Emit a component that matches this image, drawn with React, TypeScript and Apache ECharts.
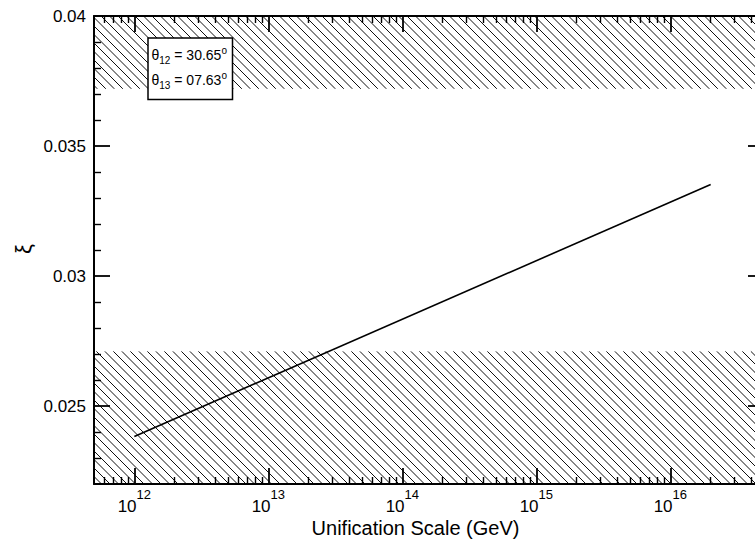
import React, { useEffect, useRef } from 'react';
import * as echarts from 'echarts';

// ---- data ----
const lineScaleGeV = [1e12, 2e16];
const lineXi = [0.02383, 0.03352];

const bandLower = [0.022, 0.0372];
const bandUpper = [0.0271, 0.04];

const xMinGeV = 5e11;
const xMaxGeV = 5e16;
const yMin = 0.022;
const yMax = 0.04;

const xMajorTickGeV = [1e12, 1e13, 1e14, 1e15, 1e16];
const xMinorTickGeV = [
  6e11, 7e11, 8e11, 9e11,
  2e12, 3e12, 4e12, 5e12, 6e12, 7e12, 8e12, 9e12,
  2e13, 3e13, 4e13, 5e13, 6e13, 7e13, 8e13, 9e13,
  2e14, 3e14, 4e14, 5e14, 6e14, 7e14, 8e14, 9e14,
  2e15, 3e15, 4e15, 5e15, 6e15, 7e15, 8e15, 9e15,
  2e16, 3e16, 4e16,
];
const yMajorTicks = [0.025, 0.03, 0.035, 0.04];
const yMinorTicks = [
  0.023, 0.024, 0.026, 0.027, 0.028, 0.029, 0.031, 0.032, 0.033, 0.034,
  0.036, 0.037, 0.038, 0.039,
];
const legendSubscripts = ['12', '13'];
const legendValues = ['30.65', '07.63'];
const xTitle = 'Unification Scale (GeV)';
const yTitle = 'ξ';

const FONT = '"Liberation Sans", Arial, Helvetica, sans-serif';
const lg = (v: number) => Math.log10(v);

function makeXAxis(position: 'top' | 'bottom', ticks: number[], len: number, showLine: boolean, showLabels: boolean) {
  return {
    type: 'value',
    position,
    min: lg(xMinGeV),
    max: lg(xMaxGeV),
    z: 10,
    splitLine: { show: false },
    axisLine: { show: showLine, onZero: false, lineStyle: { color: '#000', width: 2 } },
    axisTick: {
      show: true,
      inside: true,
      length: len,
      customValues: ticks.map(lg),
      lineStyle: { color: '#000', width: len > 10 ? 1.8 : 1.4 },
    },
    axisLabel: showLabels
      ? {
          show: true,
          customValues: ticks.map(lg),
          margin: 4,
          formatter: (v: number) => `{b|10}{s|${Math.round(v)}}`,
          rich: {
            b: { fontSize: 17, lineHeight: 36, fontFamily: FONT, color: '#000' },
            s: { fontSize: 13, lineHeight: 18, verticalAlign: 'top', fontFamily: FONT, color: '#000' },
          },
        }
      : { show: false },
  };
}

function makeYAxis(position: 'left' | 'right', ticks: number[], len: number, showLine: boolean, showLabels: boolean) {
  return {
    type: 'value',
    position,
    min: yMin,
    max: yMax,
    z: 10,
    splitLine: { show: false },
    axisLine: { show: showLine, onZero: false, lineStyle: { color: '#000', width: 2 } },
    axisTick: {
      show: true,
      inside: true,
      length: len,
      customValues: ticks,
      lineStyle: { color: '#000', width: len > 10 ? 1.8 : 1.4 },
    },
    axisLabel: showLabels
      ? {
          show: true,
          customValues: ticks,
          margin: 8,
          fontSize: 17,
          fontFamily: FONT,
          color: '#000',
        }
      : { show: false },
  };
}

export default function App() {
  const ref = useRef<HTMLDivElement>(null);

  useEffect(() => {
    if (!ref.current) return;
    const chart = echarts.init(ref.current, null, { renderer: 'svg' });
    const spacing = 8.5;

    const legendTexts = legendSubscripts.map((sub, i) => ({
      type: 'text',
      z: 101,
      left: 151.5,
      top: 45.3 + i * 25,
      style: {
        text: `{t|θ}{sub|${sub}}{t| = ${legendValues[i]}}{sup|o}`,
        fill: '#000',
        rich: {
          t: { fontSize: 14, lineHeight: 20, fontFamily: FONT, fill: '#000' },
          sub: { fontSize: 10, lineHeight: 6, verticalAlign: 'bottom', fontFamily: FONT, fill: '#000' },
          sup: { fontSize: 10, lineHeight: 14, verticalAlign: 'top', fontFamily: FONT, fill: '#000' },
        },
      },
    }));

    chart.setOption({
      animation: false,
      backgroundColor: '#fff',
      grid: {
        left: 94,
        top: 16,
        width: 670,
        height: 468,
        containLabel: false,
        outerBoundsMode: 'none',
      },
      xAxis: [
        makeXAxis('bottom', xMajorTickGeV, 16, true, true),
        makeXAxis('bottom', xMinorTickGeV, 7, false, false),
        makeXAxis('top', xMajorTickGeV, 16, true, false),
        makeXAxis('top', xMinorTickGeV, 7, false, false),
      ],
      yAxis: [
        makeYAxis('left', yMajorTicks, 16, true, true),
        makeYAxis('left', yMinorTicks, 7, false, false),
        makeYAxis('right', yMajorTicks, 16, true, false),
        makeYAxis('right', yMinorTicks, 7, false, false),
      ],
      series: [
        {
          type: 'custom',
          xAxisIndex: 0,
          yAxisIndex: 0,
          silent: true,
          z: 1,
          encode: { x: 0, y: [1, 2] },
          data: bandLower.map((lo, i) => [lg(xMinGeV), lo, bandUpper[i]]),
          renderItem: (params: any, api: any) => {
            const cs = params.coordSys;
            const pLo = api.coord([api.value(0), api.value(1)]);
            const pHi = api.coord([api.value(0), api.value(2)]);
            const x0 = cs.x;
            const x1 = cs.x + cs.width;
            const y0 = Math.min(pLo[1], pHi[1]);
            const y1 = Math.max(pLo[1], pHi[1]);
            const children: any[] = [];
            const cStart = Math.ceil((y0 - x1) / spacing) * spacing;
            for (let c = cStart; c <= y1 - x0; c += spacing) {
              const xa = Math.max(x0, y0 - c);
              const xb = Math.min(x1, y1 - c);
              if (xb <= xa) continue;
              children.push({
                type: 'line',
                shape: { x1: xa, y1: xa + c, x2: xb, y2: xb + c },
                style: { stroke: '#111', lineWidth: 1 },
              });
            }
            return { type: 'group', children };
          },
        },
        {
          type: 'line',
          xAxisIndex: 0,
          yAxisIndex: 0,
          z: 5,
          symbol: 'none',
          showSymbol: false,
          lineStyle: { color: '#000', width: 1.6 },
          data: lineScaleGeV.map((g, i) => [lg(g), lineXi[i]]),
        },
      ],
      graphic: [
        {
          type: 'rect',
          z: 100,
          shape: { x: 148, y: 38, width: 84.5, height: 61.5 },
          style: { fill: '#fff', stroke: '#000', lineWidth: 1.5 },
        },
        ...legendTexts,
        {
          type: 'text',
          z: 100,
          x: 415.5,
          y: 528,
          style: {
            text: xTitle,
            fontSize: 20,
            fontFamily: FONT,
            fill: '#000',
            align: 'center',
            verticalAlign: 'middle',
          },
        },
        {
          type: 'text',
          z: 100,
          x: 23,
          y: 249,
          rotation: Math.PI / 2,
          style: {
            text: yTitle,
            fontSize: 22,
            fontFamily: FONT,
            fill: '#000',
            align: 'center',
            verticalAlign: 'middle',
          },
        },
      ],
    });
    return () => chart.dispose();
  }, []);

  return (
    <div
      ref={ref}
      style={{ position: 'fixed', left: 0, top: 0, width: 755, height: 540 }}
    />
  );
}
